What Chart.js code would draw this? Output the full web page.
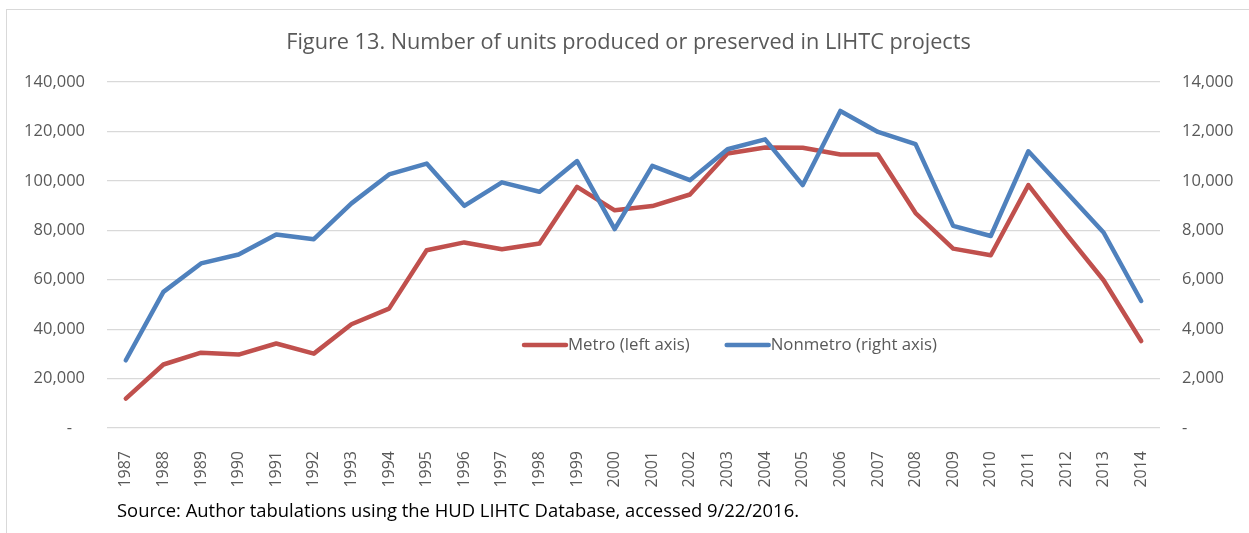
<!DOCTYPE html>
<html>
<head>
<meta charset="utf-8">
<script src="https://cdn.jsdelivr.net/npm/chart.js@4.4.1/dist/chart.umd.min.js"></script>
<style>
    html, body { margin: 0; padding: 0; background: #fff; overflow: hidden; }
    #wrap { position: relative; width: 1249px; height: 533px; }
    #frame { position: absolute; left: 6px; top: 9px; width: 1300px; height: 600px; border: 1px solid #d9d9d9; box-sizing: border-box; }
    #chart { position: absolute; left: 0; top: 0; }
    #source { position: absolute; left: 117px; top: 497px; font-family: "Open Sans", sans-serif; font-size: 18.4px; color: #000; white-space: nowrap; }
</style>
</head>
<body>
<div id="wrap">
    <div id="frame"></div>
    <canvas id="chart" width="1249" height="533"></canvas>
    <div id="source">Source: Author tabulations using the HUD LIHTC Database, accessed 9/22/2016.</div>
</div>
<script>
// Data
const years = ['1987', '1988', '1989', '1990', '1991', '1992', '1993', '1994', '1995', '1996',
    '1997', '1998', '1999', '2000', '2001', '2002', '2003', '2004', '2005', '2006',
    '2007', '2008', '2009', '2010', '2011', '2012', '2013', '2014'];

// Metro units (left axis)
const metro = [11900, 25700, 30500, 29700, 34200, 30100, 42000, 48300, 71900, 75100,
    72300, 74700, 97600, 88100, 89800, 94500, 111100, 113500, 113400, 110700,
    110700, 87000, 72600, 69900, 98300, 78700, 59800, 35200];

// Nonmetro units (right axis)
const nonmetro = [2740, 5510, 6660, 7020, 7830, 7640, 9090, 10260, 10700, 8990,
    9940, 9560, 10800, 8050, 10610, 10030, 11280, 11680, 9830, 12830,
    11980, 11490, 8180, 7770, 11200, 9560, 7910, 5140];

const leftTicks = [0, 20000, 40000, 60000, 80000, 100000, 120000, 140000];
const rightTicks = [0, 2000, 4000, 6000, 8000, 10000, 12000, 14000];

const FONT = '"Open Sans", sans-serif';
const GREY = '#595959';

// Legend sits inside the plot, like the Excel original
const inlineLegend = {
    id: 'inlineLegend',
    afterDatasetsDraw(chart) {
        const ctx = chart.ctx;
        let x = 522;
        const y = 345;
        ctx.save();
        ctx.font = '16.8px ' + FONT;
        ctx.textBaseline = 'middle';
        ctx.textAlign = 'left';
        chart.data.datasets.forEach(ds => {
            ctx.strokeStyle = ds.borderColor;
            ctx.lineWidth = 4.5;
            ctx.lineCap = 'round';
            ctx.beginPath();
            ctx.moveTo(x + 2, y);
            ctx.lineTo(x + 44, y);
            ctx.stroke();
            ctx.fillStyle = GREY;
            ctx.fillText(ds.label, x + 46, y);
            x += 46 + ctx.measureText(ds.label).width + 35;
        });
        ctx.restore();
    }
};

function fmt(v) {
    return v.toLocaleString('en-US');
}

function drawChart() {
    const ctx = document.getElementById('chart').getContext('2d');
    new Chart(ctx, {
        type: 'line',
        data: {
            labels: years,
            datasets: [
                {
                    label: 'Metro (left axis)',
                    data: metro,
                    yAxisID: 'y',
                    borderColor: '#C0504D',
                    borderWidth: 4.5,
                    order: 1
                },
                {
                    label: 'Nonmetro (right axis)',
                    data: nonmetro,
                    yAxisID: 'y2',
                    borderColor: '#4F81BD',
                    borderWidth: 4.5,
                    order: 0
                }
            ]
        },
        options: {
            responsive: false,
            animation: false,
            devicePixelRatio: 1,
            elements: {
                line: { tension: 0, borderJoinStyle: 'round', borderCapStyle: 'round' },
                point: { radius: 0, hoverRadius: 0 }
            },
            layout: { padding: { top: 10, left: 8, right: 0, bottom: 0 } },
            plugins: {
                legend: { display: false },
                tooltip: { enabled: false },
                title: {
                    display: true,
                    text: 'Figure 13. Number of units produced or preserved in LIHTC projects',
                    color: GREY,
                    font: { family: FONT, size: 21.7, weight: 'normal', lineHeight: 1.2 },
                    padding: { top: 19.8, bottom: 26.2 }
                }
            },
            scales: {
                x: {
                    offset: true,
                    grid: { display: false },
                    border: { display: false },
                    ticks: {
                        color: GREY,
                        font: { family: FONT, size: 16 },
                        minRotation: 90,
                        maxRotation: 90,
                        padding: 15,
                        autoSkip: false
                    },
                    afterFit: s => { s.height = 105; }
                },
                y: {
                    position: 'left',
                    min: 0,
                    max: 140000,
                    afterBuildTicks: s => { s.ticks = leftTicks.map(v => ({ value: v })); },
                    grid: { color: '#d9d9d9', lineWidth: 1.3, drawTicks: false },
                    border: { display: false },
                    ticks: {
                        color: GREY,
                        font: { family: FONT, size: 16.5 },
                        padding: 22,
                        callback: v => v === 0 ? '-   ' : fmt(v)
                    },
                    afterFit: s => { s.width = 99; }
                },
                y2: {
                    position: 'right',
                    min: 0,
                    max: 14000,
                    afterBuildTicks: s => { s.ticks = rightTicks.map(v => ({ value: v })); },
                    grid: { display: false, drawTicks: false },
                    border: { display: false },
                    ticks: {
                        color: GREY,
                        font: { family: FONT, size: 16.5 },
                        padding: 22,
                        callback: v => v === 0 ? '-' : fmt(v)
                    },
                    afterFit: s => { s.width = 89; }
                }
            }
        },
        plugins: [inlineLegend]
    });
}

document.addEventListener('DOMContentLoaded', () => {
    Promise.all([
        document.fonts.load('16px "Open Sans"'),
        document.fonts.load('21px "Open Sans"')
    ]).catch(() => {}).then(drawChart);
});
</script>
</body>
</html>
